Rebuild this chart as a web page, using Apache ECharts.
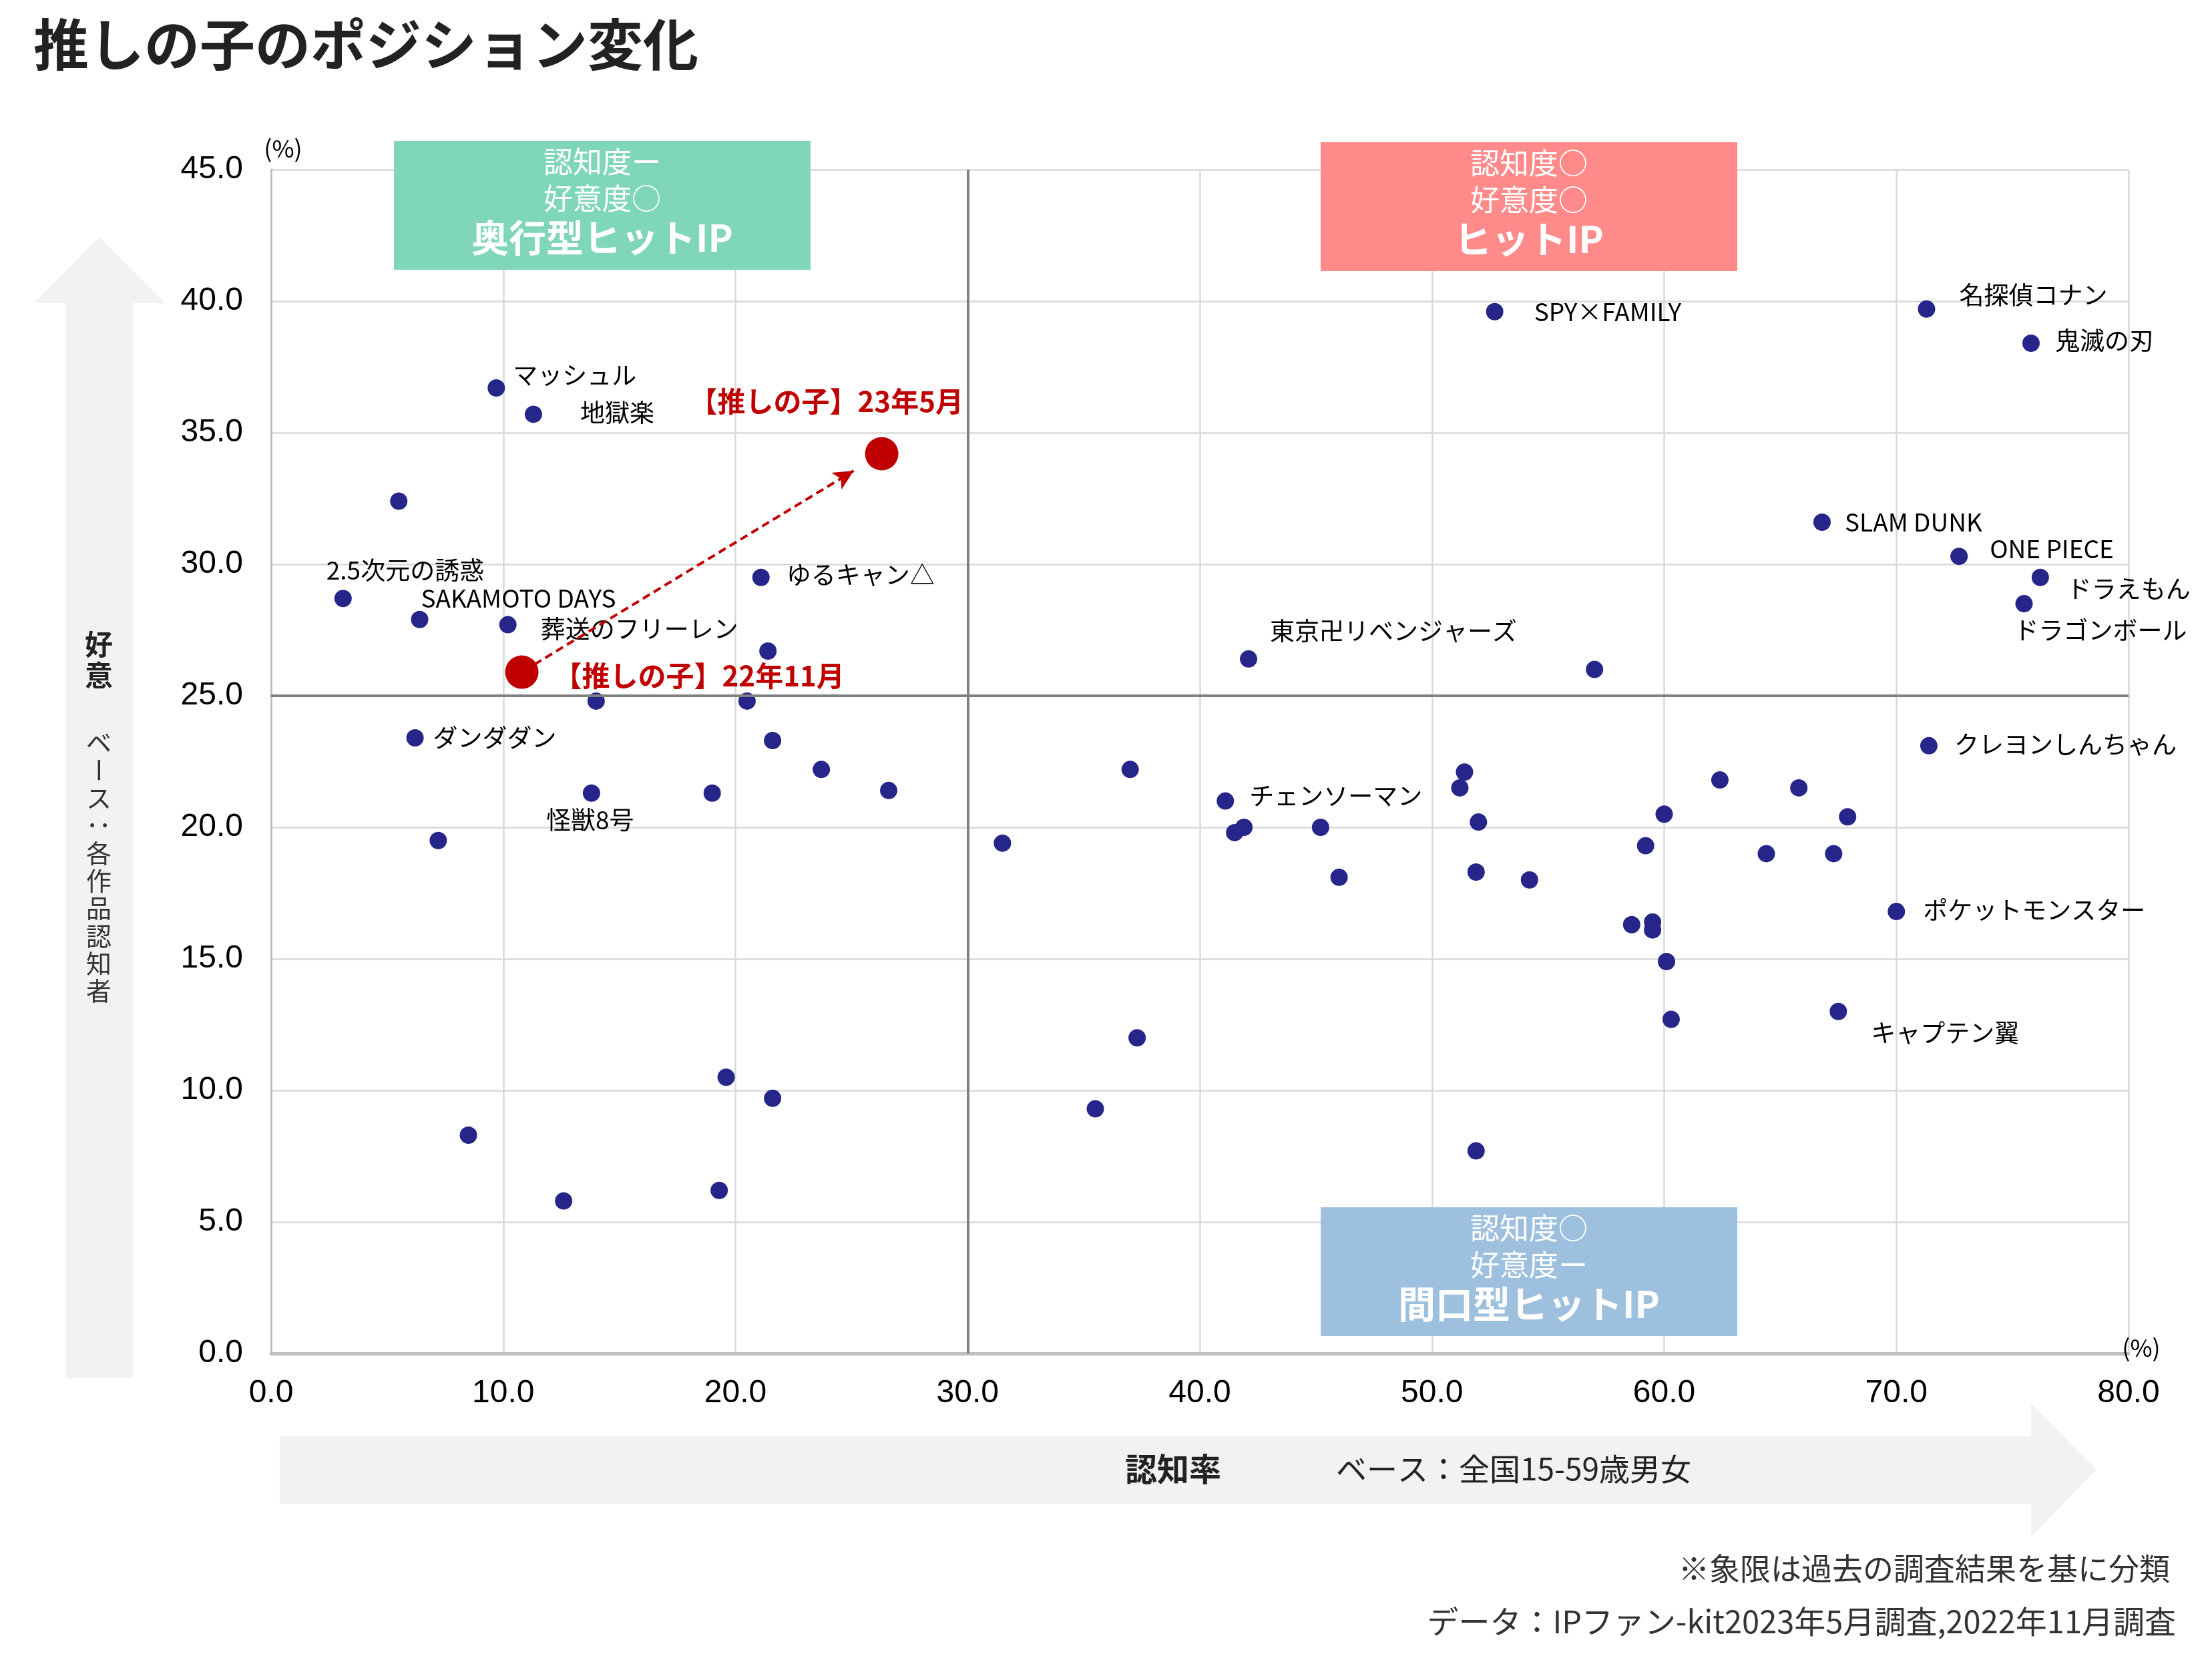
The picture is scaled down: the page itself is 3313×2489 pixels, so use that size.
<!DOCTYPE html>
<html>
<head>
<meta charset="utf-8">
<script src="https://cdn.jsdelivr.net/npm/echarts@6/dist/echarts.min.js"></script>
<style>
html,body{margin:0;padding:0;background:#fff;}
#main{width:3313px;height:2489px;}
</style>
</head>
<body>
<div id="main"></div>
<script>
// 名前付きの作品（認知率, 好意度）
var labeledNames = ['マッシュル','地獄楽','2.5次元の誘惑','SAKAMOTO DAYS','葬送のフリーレン','ゆるキャン△','ダンダダン','怪獣8号',
  '東京卍リベンジャーズ','SPY×FAMILY','名探偵コナン','鬼滅の刃','SLAM DUNK','ONE PIECE','ドラえもん','ドラゴンボール',
  'クレヨンしんちゃん','チェンソーマン','ポケットモンスター','キャプテン翼'];
var labeledX = [9.7, 11.3, 3.1, 6.4, 10.2, 21.1, 6.2, 13.8, 42.1, 52.7, 71.3, 75.8, 66.8, 72.7, 76.2, 75.5, 71.4, 41.1, 70.0, 67.5];
var labeledY = [36.7, 35.7, 28.7, 27.9, 27.7, 29.5, 23.4, 21.3, 26.4, 39.6, 39.7, 38.4, 31.6, 30.3, 29.5, 28.5, 23.1, 21.0, 16.8, 13.0];

// 名前なしの作品
var otherX = [5.5, 21.4, 14.0, 20.5, 21.6, 23.7, 26.6, 19.0, 7.2, 19.6, 21.6, 8.5, 12.6, 19.3, 31.5,
  57.0, 37.0, 51.4, 51.2, 62.4, 65.8, 60.0, 67.9, 41.9, 41.5, 45.2, 52.0, 59.2, 64.4, 67.3,
  46.0, 51.9, 54.2, 58.6, 59.5, 59.5, 60.1, 60.3, 37.3, 35.5, 51.9];
var otherY = [32.4, 26.7, 24.8, 24.8, 23.3, 22.2, 21.4, 21.3, 19.5, 10.5, 9.7, 8.3, 5.8, 6.2, 19.4,
  26.0, 22.2, 22.1, 21.5, 21.8, 21.5, 20.5, 20.4, 20.0, 19.8, 20.0, 20.2, 19.3, 19.0, 19.0,
  18.1, 18.3, 18.0, 16.3, 16.4, 16.1, 14.9, 12.7, 12.0, 9.3, 7.7];

// 推しの子
var oshiNames = ['【推しの子】22年11月', '【推しの子】23年5月'];
var oshiX = [10.8, 26.3];
var oshiY = [25.9, 34.2];

// 象限の境界
var quadX = 30;
var quadY = 25;

// ラベル位置（点の中心からの px）
var labelOffset = {
  'マッシュル':[25,-19], '地獄楽':[70,-2], '2.5次元の誘惑':[-25,-42], 'SAKAMOTO DAYS':[2,-32],
  '葬送のフリーレン':[49,6], 'ゆるキャン△':[38,-4], 'ダンダダン':[27,0], '怪獣8号':[-68,40],
  '東京卍リベンジャーズ':[32,-42], 'SPY×FAMILY':[59,0], '名探偵コナン':[49,-21], '鬼滅の刃':[36,-4],
  'SLAM DUNK':[34,0], 'ONE PIECE':[46,-11], 'ドラえもん':[40,17], 'ドラゴンボール':[-15,40],
  'クレヨンしんちゃん':[38,-2], 'チェンソーマン':[36,-8], 'ポケットモンスター':[40,-2], 'キャプテン翼':[49,32]
};
var oshiOffset = [[48,6], [-288,-78]];

var JP = '"Noto Sans CJK JP"';
var NAVY = '#26268a';
var RED = '#c00000';

function txt(s, x, y, size, o) {
  o = o || {};
  return {
    type: 'text', x: x, y: y, z: 100, rotation: o.rot || 0, silent: true,
    style: {
      text: s, fill: o.color || '#000',
      font: (o.bold ? 'bold ' : '') + size + 'px ' + JP,
      align: o.align || 'left', verticalAlign: 'middle'
    }
  };
}

function box(x, y, color, l1, l2, l3) {
  var cx = x + 312;
  return [
    {type: 'rect', z: 90, silent: true, shape: {x: x, y: y, width: 624, height: 193}, style: {fill: color}},
    txt(l1, cx, y + 31, 44, {color: '#fff', align: 'center'}),
    txt(l2, cx, y + 86, 44, {color: '#fff', align: 'center'}),
    txt(l3, cx, y + 145, 56, {color: '#fff', align: 'center', bold: true})
  ];
}

var graphics = [];
// 矢印（背景）
graphics.push({type: 'polygon', z: 1, silent: true,
  shape: {points: [[149,355],[247,454],[199,454],[199,2064],[99,2064],[99,454],[51,454]]},
  style: {fill: '#f2f2f2'}});
graphics.push({type: 'polygon', z: 1, silent: true,
  shape: {points: [[419,2151],[3042,2151],[3042,2102],[3140,2201],[3042,2301],[3042,2252],[419,2252]]},
  style: {fill: '#f2f2f2'}});

// タイトル
graphics.push(txt('推しの子のポジション変化', 50, 66, 83, {bold: true, color: '#222'}));

// 縦軸タイトル
graphics.push(txt('好', 148, 965, 42, {bold: true, color: '#222', align: 'center'}));
graphics.push(txt('意', 148, 1011, 42, {bold: true, color: '#222', align: 'center'}));
var vchars = 'ベース：各作品認知者'.split('');
vchars.forEach(function (c, i) {
  var rot = (c === 'ー' || c === '：') ? -Math.PI / 2 : 0;
  graphics.push(txt(c, 148, 1112 + i * 41.3, 38, {color: '#333', align: 'center', rot: rot}));
});

// 横軸タイトル
graphics.push(txt('認知率', 1757, 2200, 48, {bold: true, color: '#222', align: 'center'}));
graphics.push(txt('ベース：全国15-59歳男女', 2001, 2200, 46, {color: '#222'}));

// 単位
graphics.push(txt('(%)', 424, 222, 36, {color: '#000', align: 'center'}));
graphics.push(txt('(%)', 3207, 2018, 36, {color: '#000', align: 'center'}));

// 注記
graphics.push(txt('※象限は過去の調査結果を基に分類', 3250, 2349, 46, {color: '#333', align: 'right'}));
graphics.push(txt('データ：IPファン-kit2023年5月調査,2022年11月調査', 3259, 2428, 47, {color: '#333', align: 'right'}));

// 象限ボックス
graphics = graphics.concat(box(590, 211, '#80d6b9', '認知度ー', '好意度○', '奥行型ヒットIP'));
graphics = graphics.concat(box(1978, 213, '#ff8a8a', '認知度○', '好意度○', 'ヒットIP'));
graphics = graphics.concat(box(1978, 1808, '#9dc0de', '認知度○', '好意度ー', '間口型ヒットIP'));

// 矢印の端点（2点を結ぶ線を少し短く）
var dx = oshiX[1] - oshiX[0], dy = oshiY[1] - oshiY[0];
var arrowFrom = [oshiX[0] + 0.035 * dx, oshiY[0] + 0.035 * dy];
var arrowTo = [oshiX[0] + 0.922 * dx, oshiY[0] + 0.922 * dy];

var chart = echarts.init(document.getElementById('main'));
chart.setOption({
  animation: false,
  backgroundColor: '#fff',
  grid: {left: 406, right: 125, top: 254, bottom: 462},
  xAxis: {
    type: 'value', min: 0, max: 80, interval: 10,
    axisLine: {show: true, lineStyle: {color: '#bfbfbf', width: 5}},
    axisTick: {show: false},
    splitLine: {show: true, lineStyle: {color: '#d9d9d9', width: 2.5}},
    axisLabel: {color: '#000', fontSize: 48, fontFamily: 'Liberation Sans', margin: 36,
      formatter: function (v) { return v.toFixed(1); }}
  },
  yAxis: {
    type: 'value', min: 0, max: 45, interval: 5,
    axisLine: {show: true, lineStyle: {color: '#bfbfbf', width: 3}},
    axisTick: {show: false},
    splitLine: {show: true, lineStyle: {color: '#d9d9d9', width: 2.5}},
    axisLabel: {color: '#000', fontSize: 48, fontFamily: 'Liberation Sans', margin: 42,
      formatter: function (v) { return v.toFixed(1); }}
  },
  graphic: graphics,
  series: [
    {
      type: 'scatter', z: 1, data: [], silent: true,
      markLine: {
        silent: true, animation: false,
        symbol: ['none', 'none'],
        label: {show: false},
        lineStyle: {color: '#808080', width: 4, type: 'solid'},
        data: [{xAxis: quadX}, {yAxis: quadY}]
      }
    },
    {
      type: 'scatter', z: 3, symbolSize: 26, itemStyle: {color: NAVY, opacity: 1},
      data: otherX.map(function (x, i) { return [x, otherY[i]]; })
    },
    {
      type: 'scatter', z: 3, symbolSize: 26, itemStyle: {color: NAVY, opacity: 1},
      data: labeledNames.map(function (n, i) {
        var o = labelOffset[n];
        return {
          name: n, value: [labeledX[i], labeledY[i]],
          label: {show: true, position: [o[0] + 13, o[1] + 13], align: 'left', verticalAlign: 'middle',
            formatter: '{b}', color: '#000', fontSize: 37, fontFamily: 'Noto Sans CJK JP'}
        };
      })
    },
    {
      type: 'scatter', z: 4, symbolSize: 50, itemStyle: {color: RED, opacity: 1},
      data: oshiNames.map(function (n, i) {
        var o = oshiOffset[i];
        return {
          name: n, value: [oshiX[i], oshiY[i]],
          label: {show: true, position: [o[0] + 25, o[1] + 25], align: 'left', verticalAlign: 'middle',
            formatter: '{b}', color: RED, fontSize: 42, fontWeight: 'bold', fontFamily: 'Noto Sans CJK JP'}
        };
      }),
      markLine: {
        silent: true, animation: false,
        symbol: ['none', 'arrow'], symbolSize: [22, 30],
        label: {show: false},
        lineStyle: {color: RED, width: 4, type: [12, 7]},
        data: [[{coord: arrowFrom}, {coord: arrowTo}]]
      }
    }
  ]
});
</script>
</body>
</html>
